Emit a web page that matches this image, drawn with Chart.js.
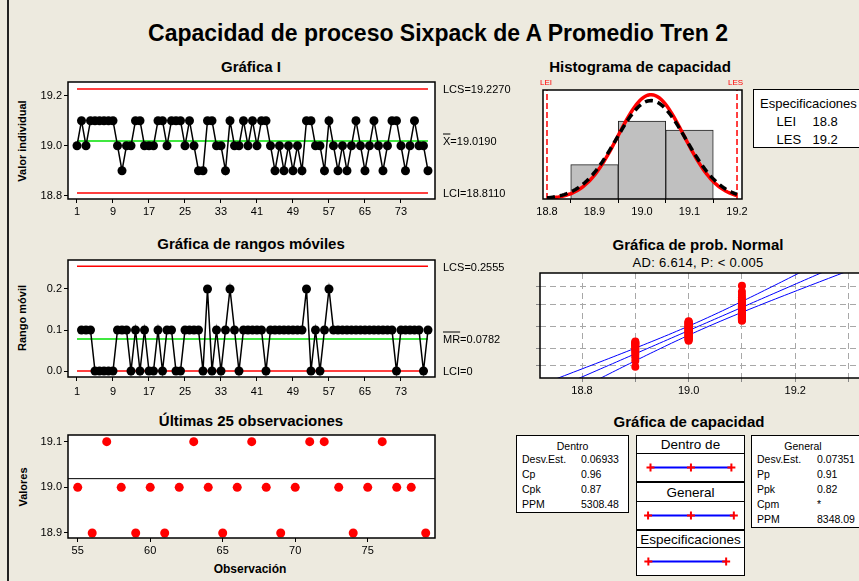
<!DOCTYPE html>
<html>
<head>
<meta charset="utf-8">
<script src="https://cdn.jsdelivr.net/npm/chart.js@4"></script>
<style>
  body { margin: 0; background: #EDEADF; }
  #page { position: relative; width: 859px; height: 581px; overflow: hidden; background: #EDEADF;
          font-family: "Liberation Sans", Arial, sans-serif; color: #000; }
  #page canvas { position: absolute; }
  .t { position: absolute; white-space: nowrap; transform: translate(-50%, -50%); line-height: 1; }
  .l { position: absolute; white-space: nowrap; transform: translateY(-50%); line-height: 1; }
  .rot { position: absolute; white-space: nowrap; transform: translate(-50%, -50%) rotate(-90deg); line-height: 1; font-weight: bold; font-size: 11px; }
  .box { position: absolute; background: #fff; border: 1.5px solid #000; box-sizing: border-box; }
  .ttl { font-weight: bold; font-size: 15px; }
  .ov { text-decoration: overline; }
  #edge { position: absolute; left: 7px; top: 0; width: 2px; height: 581px; background: #222; }
</style>
</head>
<body>
<div id="page"><div id="edge"></div></div>
<script>
// ---- data ----
const observations = [
  19.0, 19.1, 19.0, 19.1, 19.1, 19.1, 19.1, 19.1, 19.1, 19.0,
  18.9, 19.0, 19.0, 19.1, 19.1, 19.0, 19.0, 19.0, 19.1, 19.1,
  19.0, 19.1, 19.1, 19.1, 19.0, 19.1, 19.0, 18.9, 18.9, 19.1,
  19.1, 19.0, 19.0, 18.9, 19.1, 19.0, 19.0, 19.1, 19.0, 19.1,
  19.0, 19.1, 19.1, 19.0, 18.9, 19.0, 18.9, 19.0, 18.9, 19.0,
  18.9, 19.1, 19.1, 19.0, 19.0, 18.9, 19.1, 19.0, 18.9, 19.0,
  18.9, 19.0, 19.1, 19.0, 18.9, 19.0, 19.1, 19.0, 18.9, 19.0,
  19.1, 19.1, 19.0, 18.9, 19.0, 19.1, 19.0, 19.0, 18.9
];
const iTicks = [1, 9, 17, 25, 33, 41, 49, 57, 65, 73];
const iYTicks = [18.8, 19.0, 19.2];
const mrYTicks = [0.0, 0.1, 0.2];
const lastTicks = [55, 60, 65, 70, 75];
const lastYTicks = [18.9, 19.0, 19.1];
const histBins = [18.9, 19.0, 19.1];
const histCounts = [15, 34, 30];
const histTicks = [18.8, 18.9, 19.0, 19.1, 19.2];
const probTicks = [18.8, 18.9, 19.0, 19.1, 19.2, 19.3];
const probGridZ = [-2.326, -1.2816, 0, 1.2816, 2.326];

const iLCS = 19.2270, iCenter = 19.0190, iLCI = 18.8110;
const mrLCS = 0.2555, mrCenter = 0.0782, mrLCI = 0;
const specLEI = 18.8, specLES = 19.2;
const processMean = 19.019;
const sigmaWithin = 0.06933;
const sigmaOverall = 0.07351;

const withinStats = [['Desv.Est.', '0.06933'], ['Cp', '0.96'], ['Cpk', '0.87'], ['PPM', '5308.48']];
const overallStats = [['Desv.Est.', '0.07351'], ['Pp', '0.91'], ['Ppk', '0.82'], ['Cpm', '*'], ['PPM', '8348.09']];

// ---- chart defaults ----
Chart.defaults.font.family = '"Liberation Sans", Arial, sans-serif';
Chart.defaults.font.size = 11;
Chart.defaults.color = '#000';
Chart.defaults.animation = false;
Chart.defaults.responsive = false;
Chart.defaults.plugins.legend.display = false;
Chart.defaults.plugins.tooltip.enabled = false;

// white plot area with black frame
Chart.register({
  id: 'frame',
  beforeDraw(chart) {
    const a = chart.chartArea, ctx = chart.ctx;
    ctx.save();
    ctx.fillStyle = '#fff';
    ctx.fillRect(a.left, a.top, a.right - a.left, a.bottom - a.top);
    ctx.restore();
  },
  afterDraw(chart) {
    const a = chart.chartArea, ctx = chart.ctx;
    ctx.save();
    ctx.strokeStyle = '#000';
    ctx.lineWidth = 1.5;
    ctx.strokeRect(a.left, a.top, a.right - a.left, a.bottom - a.top);
    ctx.restore();
  }
});

const page = document.getElementById('page');

function addText(html, x, y, cls, style) {
  const d = document.createElement('div');
  d.className = cls;
  d.innerHTML = html;
  d.style.left = x + 'px';
  d.style.top = y + 'px';
  if (style) d.style.cssText += style;
  page.appendChild(d);
  return d;
}

function addBox(x, y, w, h) {
  const d = document.createElement('div');
  d.className = 'box';
  d.style.cssText += `left:${x}px;top:${y}px;width:${w}px;height:${h}px`;
  page.appendChild(d);
  return d;
}

function makeCanvas(x, y, w, h) {
  const c = document.createElement('canvas');
  c.width = w;
  c.height = h;
  c.style.cssText = `left:${x}px;top:${y}px;width:${w}px;height:${h}px`;
  page.appendChild(c);
  return c;
}

// box = plot area on the page, m = room around it for ticks
function panelChart(box, m, config) {
  const w = box.w + m.l + m.r, h = box.h + m.t + m.b;
  const c = makeCanvas(box.x - m.l, box.y - m.t, w, h);
  const o = config.options;
  o.layout = { padding: { top: m.t, right: m.r, bottom: 0, left: 0 } };
  o.scales.x.afterFit = s => { s.height = m.b; s.paddingLeft = 0; s.paddingRight = 0; };
  o.scales.y.afterFit = s => { s.width = m.l; s.paddingTop = 0; s.paddingBottom = 0; };
  o.events = [];
  return new Chart(c, config);
}

function linAxis(min, max, ticks, fmt, extra) {
  return Object.assign({
    type: 'linear', min, max,
    afterBuildTicks: s => { s.ticks = ticks.map(v => ({ value: v })); },
    ticks: { autoSkip: false, maxRotation: 0, padding: 2, callback: fmt },
    grid: { drawOnChartArea: false, drawTicks: true, tickLength: 4, color: '#000' },
    border: { display: false }
  }, extra || {});
}

function hline(y, x0, x1, color, width) {
  return { data: [{ x: x0, y }, { x: x1, y }], showLine: true, borderColor: color,
           borderWidth: width || 1.5, pointRadius: 0 };
}

const n = observations.length;
const f1 = v => v.toFixed(1);

// ---- titles ----
addText('Capacidad de proceso Sixpack de A Promedio Tren 2', 438, 33, 't', 'font-weight:bold;font-size:23px');
addText('Gráfica I', 251, 66, 't ttl');
addText('Histograma de capacidad', 640, 66, 't ttl');
addText('Gráfica de rangos móviles', 251, 243, 't ttl');
addText('Gráfica de prob. Normal', 698, 244, 't ttl');
addText('AD: 6.614, P: &lt; 0.005', 698, 262, 't', 'font-size:13px;letter-spacing:0.3px');
addText('Últimas 25 observaciones', 251, 420, 't ttl');
addText('Gráfica de capacidad', 689, 421, 't ttl');

addText('Valor individual', 22, 141, 'rot');
addText('Rango móvil', 22, 318, 'rot');
addText('Valores', 23, 487, 'rot');
addText('Observación', 250, 569, 't', 'font-weight:bold;font-size:12px');

// ---- I chart ----
panelChart({ x: 68, y: 82, w: 367, h: 117 }, { l: 40, r: 12, t: 6, b: 22 }, {
  type: 'scatter',
  data: { datasets: [
    { data: observations.map((v, i) => ({ x: i + 1, y: v })), showLine: true,
      borderColor: '#000', borderWidth: 1.5, pointRadius: 4.5,
      pointBackgroundColor: '#000', pointBorderColor: '#000', pointBorderWidth: 0 },
    hline(iCenter, 1, n, '#00E000'),
    hline(iLCS, 1, n, '#FF0000'),
    hline(iLCI, 1, n, '#FF0000')
  ] },
  options: { scales: {
    x: linAxis(-1, 80.56, iTicks, v => String(v)),
    y: linAxis(18.7868, 19.2548, iYTicks, f1)
  } }
});
addText('LCS=' + iLCS.toFixed(4), 443, 89, 'l', 'font-size:11px');
addText('<span class="ov">X</span>=' + iCenter.toFixed(4), 443, 141, 'l', 'font-size:11px');
addText('LCI=' + iLCI.toFixed(4), 443, 193, 'l', 'font-size:11px');

// ---- moving range chart ----
const movingRanges = observations.slice(1).map((v, i) =>
  ({ x: i + 2, y: Math.round(Math.abs(v - observations[i]) * 10) / 10 }));
panelChart({ x: 68, y: 260, w: 367, h: 117 }, { l: 40, r: 12, t: 6, b: 24 }, {
  type: 'scatter',
  data: { datasets: [
    { data: movingRanges, showLine: true, borderColor: '#000', borderWidth: 1.5, pointRadius: 4.5,
      pointBackgroundColor: '#000', pointBorderColor: '#000', pointBorderWidth: 0 },
    hline(mrCenter, 1, n, '#00E000'),
    hline(mrLCS, 1, n, '#FF0000'),
    hline(mrLCI, 1, n, '#FF0000')
  ] },
  options: { scales: {
    x: linAxis(-1, 80.56, iTicks, v => String(v), { ticks: { autoSkip: false, maxRotation: 0, padding: 4, callback: v => String(v) } }),
    y: linAxis(-0.0146, 0.2707, mrYTicks, f1)
  } }
});
addText('LCS=' + mrLCS.toFixed(4), 443, 267, 'l', 'font-size:11px');
addText('<span class="ov">MR</span>=' + mrCenter.toFixed(4), 443, 339, 'l', 'font-size:11px');
addText('LCI=' + mrLCI, 443, 371, 'l', 'font-size:11px');

// ---- last 25 observations ----
const lastStart = n - 25;
panelChart({ x: 68, y: 435, w: 367, h: 103 }, { l: 40, r: 12, t: 6, b: 22 }, {
  type: 'scatter',
  data: { datasets: [
    { data: observations.slice(lastStart).map((v, i) => ({ x: lastStart + i + 1, y: v })),
      pointRadius: 4.5, pointBackgroundColor: '#FF0000', pointBorderColor: '#FF0000', pointBorderWidth: 0 },
    hline(iCenter, 54.33, 79.64, '#000', 1)
  ] },
  options: { scales: {
    x: linAxis(54.33, 79.64, lastTicks, v => String(v)),
    y: linAxis(18.889, 19.1146, lastYTicks, f1)
  } }
});

// ---- capability histogram ----
function normalCurve(sigma) {
  const pts = [];
  for (let i = 0; i <= 100; i++) {
    const x = specLEI + (specLES - specLEI) * i / 100;
    const z = (x - processMean) / sigma;
    pts.push({ x, y: n * 0.1 * Math.exp(-0.5 * z * z) / (sigma * Math.sqrt(2 * Math.PI)) });
  }
  return pts;
}
const histMax = 47.5;
panelChart({ x: 543, y: 90, w: 199, h: 109 }, { l: 14, r: 14, t: 4, b: 22 }, {
  type: 'bar',
  data: { datasets: [
    { type: 'line', data: normalCurve(sigmaOverall), borderColor: '#000', borderWidth: 3.5,
      borderDash: [8, 5], pointRadius: 0 },
    { type: 'line', data: normalCurve(sigmaWithin), borderColor: '#FF0000', borderWidth: 3.5, pointRadius: 0 },
    { type: 'line', data: [{ x: specLEI, y: 0 }, { x: specLEI, y: histMax }], borderColor: '#FF0000',
      borderWidth: 1.5, borderDash: [6, 3], pointRadius: 0 },
    { type: 'line', data: [{ x: specLES, y: 0 }, { x: specLES, y: histMax }], borderColor: '#FF0000',
      borderWidth: 1.5, borderDash: [6, 3], pointRadius: 0 },
    { type: 'bar', data: histBins.map((b, i) => ({ x: b, y: histCounts[i] })),
      backgroundColor: '#C0C0C0', borderColor: '#222', borderWidth: 1,
      barPercentage: 1, categoryPercentage: 1 }
  ] },
  options: { scales: {
    x: linAxis(18.7916, 19.2105, histTicks, f1, { offset: false }),
    y: { type: 'linear', min: 0, max: histMax, ticks: { display: false }, grid: { display: false },
         border: { display: false } }
  } }
});
addText('LEI', 546, 83, 't', 'font-size:8px;color:#FF0000');
addText('LES', 735.5, 83, 't', 'font-size:8px;color:#FF0000');

addBox(753, 89, 120, 59);
addText('Especificaciones', 760, 103, 'l', 'font-size:13px');
addText('LEI', 776.5, 121, 'l', 'font-size:13px');
addText(String(specLEI), 812.5, 121, 'l', 'font-size:13px');
addText('LES', 776.5, 139, 'l', 'font-size:13px');
addText(String(specLES), 812.5, 139, 'l', 'font-size:13px');

// ---- normal probability plot ----
function normInv(p) {
  const a = [-3.969683028665376e+01, 2.209460984245205e+02, -2.759285104469687e+02,
             1.383577518672690e+02, -3.066479806614716e+01, 2.506628277459239e+00];
  const b = [-5.447609879822406e+01, 1.615858368580409e+02, -1.556989798598866e+02,
             6.680131188771972e+01, -1.328068155288572e+01];
  const c = [-7.784894002430293e-03, -3.223964580411365e-01, -2.400758277161838e+00,
             -2.549732539343734e+00, 4.374664141464968e+00, 2.938163982698783e+00];
  const d = [7.784695709041462e-03, 3.224671290700398e-01, 2.445134137142996e+00,
             3.754408661907416e+00];
  const pl = 0.02425;
  if (p < pl || p > 1 - pl) {
    const q = Math.sqrt(-2 * Math.log(p < pl ? p : 1 - p));
    const v = (((((c[0] * q + c[1]) * q + c[2]) * q + c[3]) * q + c[4]) * q + c[5]) /
              ((((d[0] * q + d[1]) * q + d[2]) * q + d[3]) * q + 1);
    return p < pl ? v : -v;
  }
  const q = p - 0.5, r = q * q;
  return (((((a[0] * r + a[1]) * r + a[2]) * r + a[3]) * r + a[4]) * r + a[5]) * q /
         (((((b[0] * r + b[1]) * r + b[2]) * r + b[3]) * r + b[4]) * r + 1);
}
const sorted = [...observations].sort((p, q) => p - q);
const probPoints = sorted.map((v, i) => ({ x: v, y: normInv((i + 1 - 0.3) / (n + 0.4)) }));
const fitLine = [], bandLo = [], bandHi = [];
for (let k = -36; k <= 36; k++) {
  const z = k / 10;
  const xc = processMean + z * sigmaOverall;
  const half = 1.96 * sigmaOverall * Math.sqrt(1.4 / n + z * z / (2 * (n - 1)));
  fitLine.push({ x: xc, y: z });
  bandLo.push({ x: xc - half, y: z });
  bandHi.push({ x: xc + half, y: z });
}
const gridStyle = { drawOnChartArea: true, drawTicks: true, tickLength: 4, color: '#A8A8A8', tickColor: '#888' };
panelChart({ x: 540, y: 273, w: 326, h: 105 }, { l: 5, r: 4, t: 4, b: 20 }, {
  type: 'scatter',
  data: { datasets: [
    { data: probPoints, pointRadius: 4, pointBackgroundColor: '#FF0000', pointBorderColor: '#FF0000', pointBorderWidth: 0 },
    { data: fitLine, showLine: true, borderColor: '#0000FF', borderWidth: 1, pointRadius: 0 },
    { data: bandLo, showLine: true, borderColor: '#0000FF', borderWidth: 1, pointRadius: 0 },
    { data: bandHi, showLine: true, borderColor: '#0000FF', borderWidth: 1, pointRadius: 0 }
  ] },
  options: { scales: {
    x: linAxis(18.7212, 19.3328, probTicks,
               v => (Math.round(v * 10) % 2 === 0 ? v.toFixed(1) : ''),
               { grid: gridStyle, border: { display: false, dash: [6, 4] } }),
    y: linAxis(-3.04, 3.118, probGridZ, () => '',
               { ticks: { display: false }, grid: gridStyle, border: { display: false, dash: [6, 4] } })
  } }
});

// ---- capability plot ----
function statBox(x, y, w, h, title, rows, valX) {
  addBox(x, y, w, h);
  addText(title, x + w / 2 - (w > 115 ? 8 : 0), y + 11, 't', 'font-size:10.5px');
  rows.forEach((r, i) => {
    addText(r[0], x + 6, y + 24 + i * 15, 'l', 'font-size:10.5px');
    addText(r[1], valX, y + 24 + i * 15, 'l', 'font-size:10.5px');
  });
}
statBox(516, 435, 113, 78, 'Dentro', withinStats, 581);
statBox(751, 435, 120, 93, 'General', overallStats, 817);

const capMin = 18.7673, capMax = 19.2661;
const capRows = [
  { label: 'Dentro de', head: 435, headH: 18, plot: 453,
    marks: [processMean - 3 * sigmaWithin, processMean, processMean + 3 * sigmaWithin] },
  { label: 'General', head: 482, headH: 19, plot: 501,
    marks: [processMean - 3 * sigmaOverall, processMean, processMean + 3 * sigmaOverall] },
  { label: 'Especificaciones', head: 530, headH: 17, plot: 547,
    marks: [specLEI, specLES] }
];
capRows.forEach(row => {
  addBox(636, row.head, 109, row.headH + 1.5);
  addText(row.label, 690.5, row.head + row.headH / 2 + 1, 't', 'font-size:13.5px');
  addBox(636, row.plot, 109, 29);
  const c = makeCanvas(636, row.plot, 109, 29);
  new Chart(c, {
    type: 'scatter',
    data: { datasets: [{
      data: row.marks.map(v => ({ x: v, y: 0.5 })), showLine: true,
      borderColor: '#0000FF', borderWidth: 2,
      pointStyle: 'cross', pointRadius: 4, pointBorderColor: '#FF0000', pointBorderWidth: 2
    }] },
    options: {
      events: [],
      layout: { padding: 0 },
      plugins: { frame: false },
      scales: {
        x: { type: 'linear', min: capMin, max: capMax, display: false },
        y: { type: 'linear', min: 0, max: 1, display: false }
      }
    }
  });
});
</script>
</body>
</html>
